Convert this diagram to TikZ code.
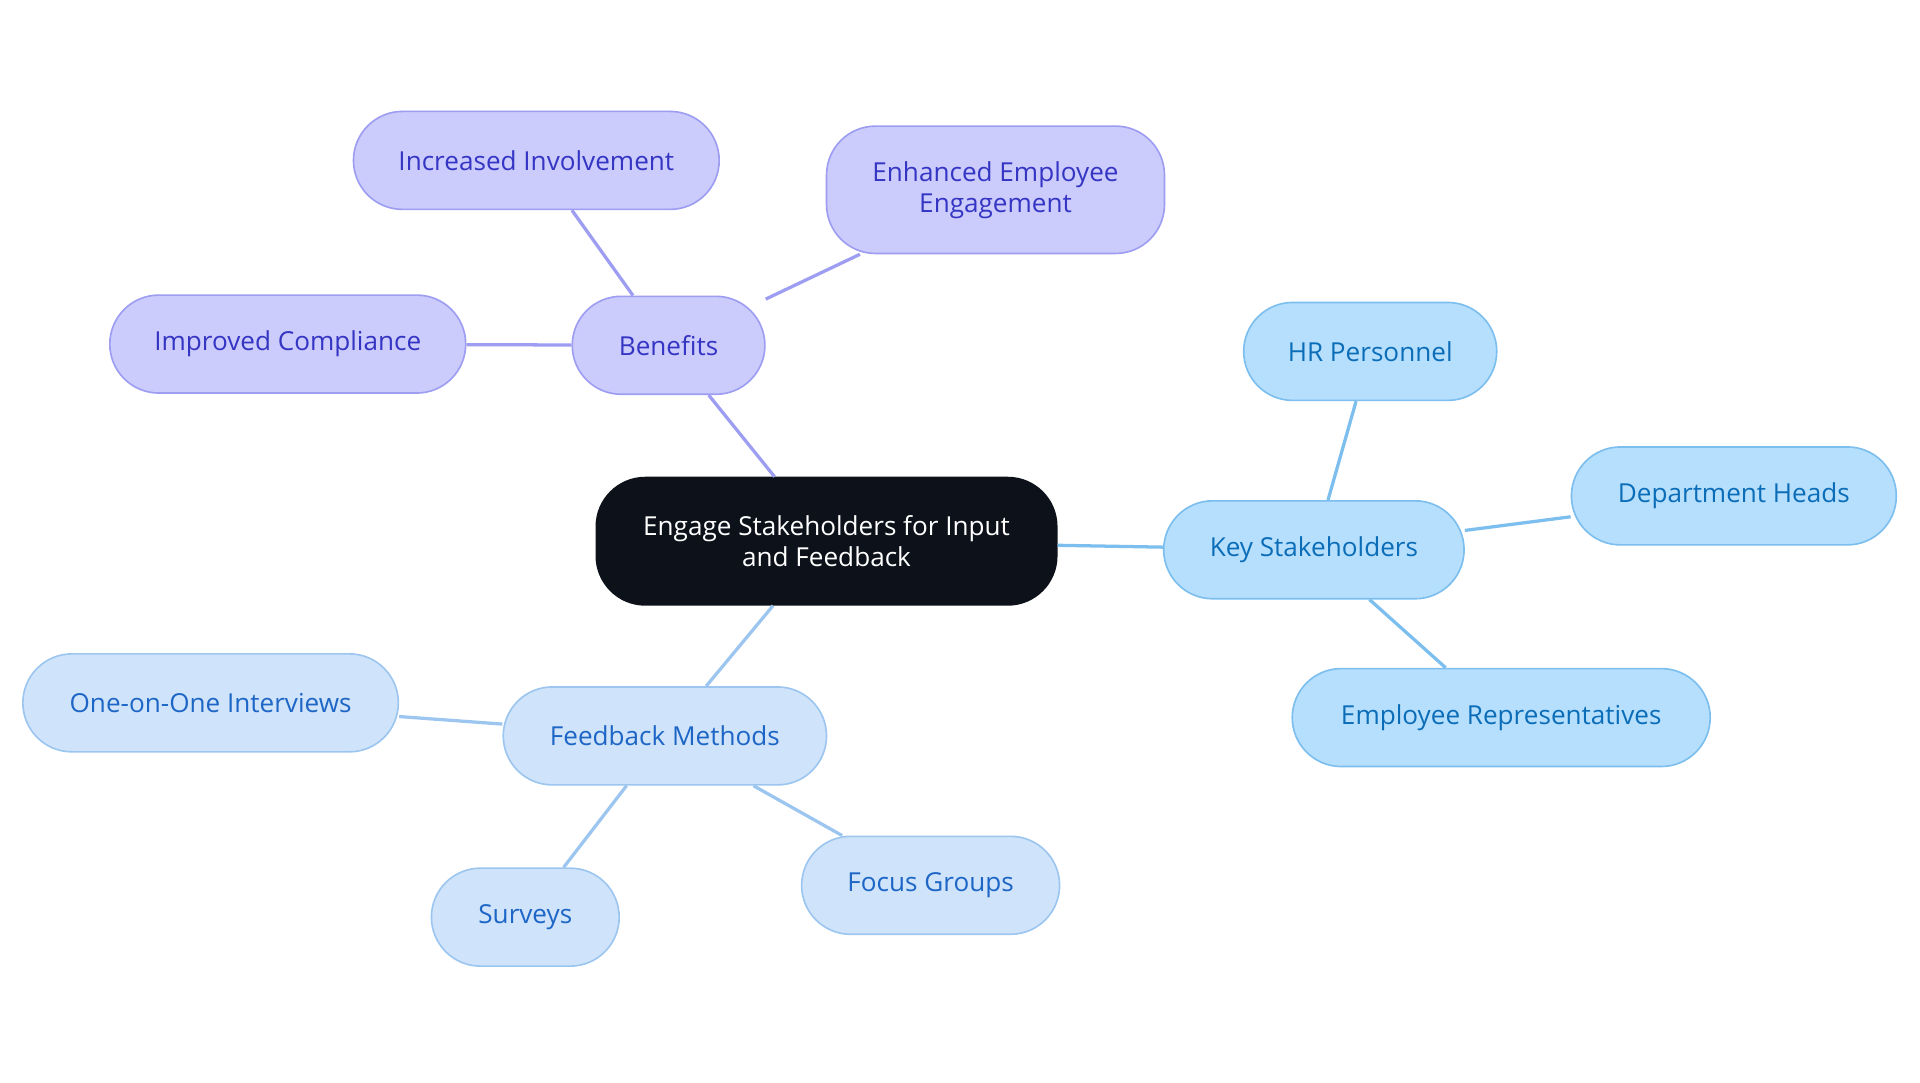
\documentclass[tikz,border=0pt]{standalone}
\usepackage{fontspec}
\setmainfont{Open Sans}
\definecolor{pf}{HTML}{CBCBFC}\definecolor{ps}{HTML}{9D9DF2}\definecolor{pt}{HTML}{3535C4}
\definecolor{bf}{HTML}{B5DFFC}\definecolor{bs}{HTML}{7CBEEE}\definecolor{bt}{HTML}{0B6DB8}
\definecolor{ff}{HTML}{CFE3FA}\definecolor{fs}{HTML}{9CC6F0}\definecolor{ft}{HTML}{1D66C6}
\definecolor{cf}{HTML}{0D121A}
\begin{document}
\begin{tikzpicture}[x=0.75pt,y=-0.75pt,
 base/.style={draw,line width=1pt,font=\fontsize{16}{19}\selectfont,align=center,minimum height=60pt,inner sep=0pt},
 pur/.style={base,fill=pf,draw=ps,text=pt,rounded corners=30pt},
 blu/.style={base,fill=bf,draw=bs,text=bt,rounded corners=30pt},
 fb/.style={base,fill=ff,draw=fs,text=ft,rounded corners=30pt},
 pe/.style={draw=ps,line width=2pt},
 be/.style={draw=bs,line width=2pt},
 fe/.style={draw=fs,line width=2pt}]
\useasboundingbox (0,0) rectangle (1568,884);
\node[base,fill=cf,draw=cf,text=white,minimum width=282pt,minimum height=78pt,rounded corners=30pt] (c) at (675,442) {Engage Stakeholders for Input\\and Feedback};
\node[pur,minimum width=118pt] (b) at (546,282) {Benefits};
\node[pur,minimum width=224pt] (b1) at (438,131) {Increased Involvement};
\node[pur,minimum width=207pt,minimum height=78pt] (b2) at (813,155) {Enhanced Employee\\Engagement};
\node[pur,minimum width=218pt] (b3) at (235,281) {Improved Compliance};
\node[blu,minimum width=184pt] (k) at (1073,449) {Key Stakeholders};
\node[blu,minimum width=155pt] (k1) at (1119,287) {HR Personnel};
\node[blu,minimum width=199pt] (k2) at (1416,405) {Department Heads};
\node[blu,minimum width=256pt] (k3) at (1226,586) {Employee Representatives};
\node[fb,minimum width=198pt] (f) at (543,601) {Feedback Methods};
\node[fb,minimum width=230pt] (f1) at (172,574) {One-on-One Interviews};
\node[fb,minimum width=115pt] (f2) at (429,749) {Surveys};
\node[fb,minimum width=158pt] (f3) at (760,723) {Focus Groups};
\begin{scope}[on background layer/.style={}]
\end{scope}
\path[pe] (c) -- (b) (b) -- (b1) (b) -- (b2) (b) -- (b3);
\path[be] (c) -- (k) (k) -- (k1) (k) -- (k2) (k) -- (k3);
\path[fe] (c) -- (f) (f) -- (f1) (f) -- (f2) (f) -- (f3);
\end{tikzpicture}
\end{document}
